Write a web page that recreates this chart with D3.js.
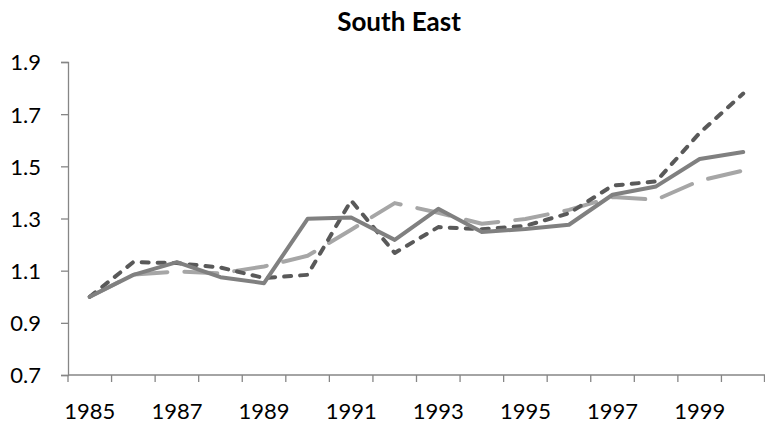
<!DOCTYPE html>
<html>
<head>
  <meta charset="utf-8">
  <title>South East</title>
  <script src="https://d3js.org/d3.v7.min.js"></script>
  <style>
    body { margin: 0; background: #fff; }
    text { font-family: Lato, "Open Sans", sans-serif; fill: #000; }
  </style>
</head>
<body>
<script>
  var years = d3.range(1985, 2001);
  var tickYears = [1985, 1987, 1989, 1991, 1993, 1995, 1997, 1999];
  var yTicks = [0.7, 0.9, 1.1, 1.3, 1.5, 1.7, 1.9];

  // three series
  var solidVals = [1.0, 1.084, 1.133, 1.075, 1.052, 1.299, 1.304, 1.218, 1.337, 1.248, 1.26, 1.276, 1.391, 1.423, 1.528, 1.555];
  var shortDashVals = [1.0, 1.133, 1.129, 1.112, 1.072, 1.084, 1.369, 1.168, 1.267, 1.259, 1.272, 1.32, 1.426, 1.442, 1.628, 1.779];
  var longDashVals = [1.0, 1.085, 1.097, 1.09, 1.116, 1.157, 1.257, 1.359, 1.322, 1.28, 1.298, 1.333, 1.382, 1.372, 1.445, 1.484];

  var w = 765, h = 426;
  var mLeft = 68, mRight = 765, mTop = 62, mBottom = 375;

  var svg = d3.select("body").append("svg").attr("width", w).attr("height", h);

  var x = d3.scaleBand().domain(years).range([mLeft, mRight]);
  var y = d3.scaleLinear().domain([0.7, 1.9]).range([mBottom, mTop]);

  svg.append("text")
    .attr("x", 399).attr("y", 31)
    .attr("text-anchor", "middle")
    .attr("font-size", "26px").attr("font-weight", "bold")
    .text("South East");

  // y axis
  var yAxis = svg.append("g").attr("transform", "translate(" + mLeft + ",0)")
    .call(d3.axisLeft(y).tickValues(yTicks).tickSize(7).tickPadding(20)
      .tickFormat(d3.format(".1f")));
  yAxis.selectAll("text").attr("font-size", "22px").attr("dy", "0.36em");

  // x axis, ticks between categories
  var xAxis = svg.append("g").attr("transform", "translate(0," + mBottom + ")");
  xAxis.append("line")
    .attr("x1", mLeft).attr("x2", mRight).attr("y1", 0).attr("y2", 0);
  xAxis.selectAll("line.tk").data(years.concat([2001])).enter().append("line")
    .attr("class", "tk")
    .attr("x1", function(d) { return d === 2001 ? mRight - 0.5 : x(d); })
    .attr("x2", function(d) { return d === 2001 ? mRight - 0.5 : x(d); })
    .attr("y1", 0).attr("y2", 7);
  xAxis.selectAll("text").data(tickYears).enter().append("text")
    .attr("x", function(d) { return x(d) + x.bandwidth() / 2; })
    .attr("y", 44)
    .attr("text-anchor", "middle")
    .attr("font-size", "22px")
    .text(function(d) { return d; });

  svg.selectAll(".domain, .tick line, g line").attr("stroke", "#868686").attr("stroke-width", 1.3);

  var line = d3.line()
    .x(function(d, i) { return x(years[i]) + x.bandwidth() / 2; })
    .y(function(d) { return y(d); });

  var series = [
    { vals: longDashVals, color: "#a6a6a6", dash: "33,17" },
    { vals: shortDashVals, color: "#595959", dash: "7,9" },
    { vals: solidVals, color: "#808080", dash: null }
  ];

  svg.selectAll("path.series").data(series).enter().append("path")
    .attr("class", "series")
    .attr("d", function(d) { return line(d.vals); })
    .attr("fill", "none")
    .attr("stroke", function(d) { return d.color; })
    .attr("stroke-width", 4)
    .attr("stroke-linecap", "round")
    .attr("stroke-linejoin", "round")
    .attr("stroke-dasharray", function(d) { return d.dash; });
</script>
</body>
</html>
